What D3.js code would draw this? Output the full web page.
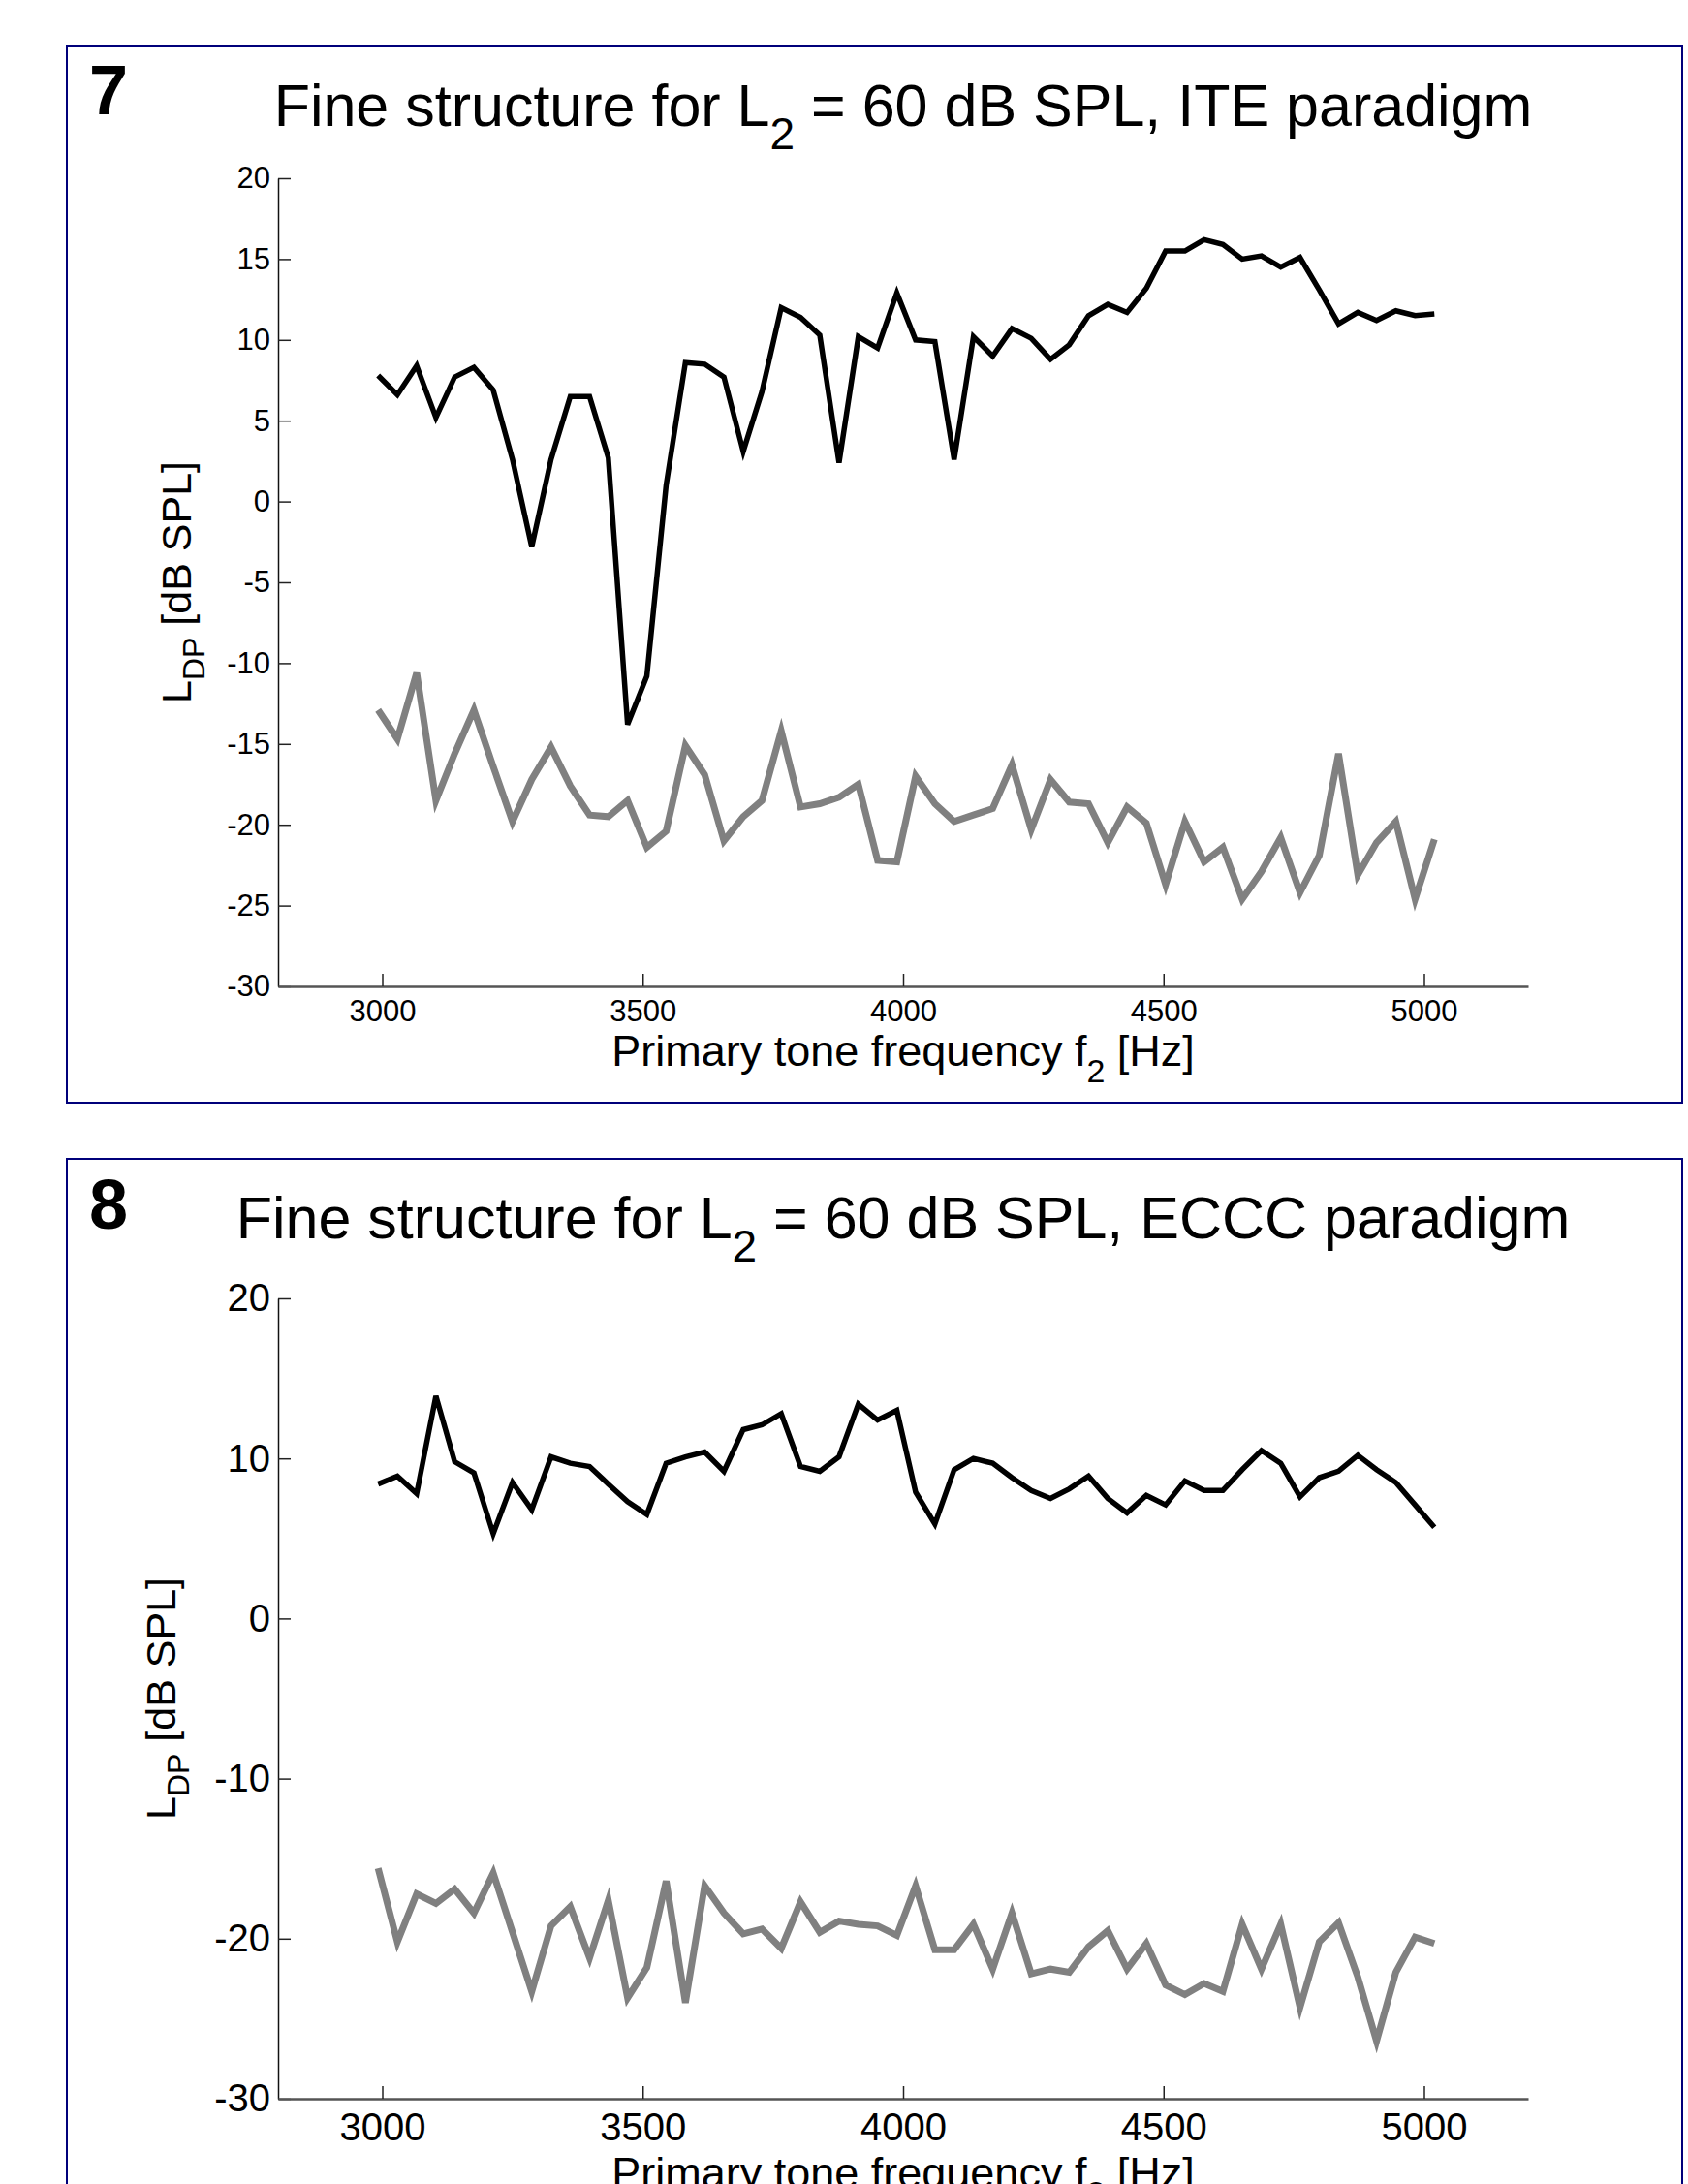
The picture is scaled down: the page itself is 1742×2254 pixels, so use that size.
<!DOCTYPE html>
<html>
<head>
<meta charset="utf-8">
<script src="https://cdn.jsdelivr.net/npm/d3@7/dist/d3.min.js"></script>
<style>
  html, body { margin: 0; padding: 0; background: #fff; }
  svg { display: block; font-family: 'Liberation Sans', Arial, sans-serif; }
</style>
</head>
<body>
<div id="chart"></div>
<script>
// f2 sampling grid (Hz), identical for both measurements
const FREQ = [2992, 3029, 3066, 3103, 3139, 3176, 3213, 3250, 3287, 3324,
  3361, 3398, 3434, 3471, 3508, 3545, 3582, 3619, 3656, 3693,
  3729, 3766, 3803, 3840, 3877, 3914, 3951, 3988, 4024, 4061,
  4098, 4135, 4172, 4209, 4246, 4283, 4319, 4356, 4393, 4430,
  4467, 4504, 4541, 4578, 4614, 4651, 4688, 4725, 4762, 4799,
  4836, 4873, 4909, 4946, 4983, 5020];

// Panel 7 — ITE paradigm
const ITE_DP = [7.8, 6.6, 8.4, 5.2, 7.7, 8.3, 6.9, 2.6, -2.8, 2.6,
  6.5, 6.5, 2.7, -13.8, -10.8, 1.0, 8.6, 8.5, 7.7, 3.1,
  6.8, 12.0, 11.4, 10.3, 2.4, 10.2, 9.5, 12.9, 10.0, 9.9,
  2.6, 10.2, 9.0, 10.7, 10.1, 8.8, 9.7, 11.5, 12.2, 11.7,
  13.2, 15.5, 15.5, 16.2, 15.9, 15.0, 15.2, 14.5, 15.1, 13.1,
  11.0, 11.7, 11.2, 11.8, 11.5, 11.6];
const ITE_NOISE = [-12.9, -14.7, -10.6, -18.5, -15.6, -12.9, -16.4, -19.8, -17.2, -15.2,
  -17.6, -19.4, -19.5, -18.5, -21.4, -20.4, -15.1, -16.9, -21.0, -19.5,
  -18.5, -14.2, -18.9, -18.7, -18.3, -17.5, -22.2, -22.3, -17.0, -18.7,
  -19.8, -19.4, -19.0, -16.3, -20.3, -17.2, -18.6, -18.7, -21.1, -18.9,
  -19.9, -23.7, -19.8, -22.3, -21.4, -24.6, -22.9, -20.8, -24.2, -21.9,
  -15.6, -23.1, -21.1, -19.8, -24.6, -20.9];

// Panel 8 — ECCC paradigm
const ECCC_DP = [8.4, 8.9, 7.8, 13.9, 9.8, 9.1, 5.3, 8.5, 6.8, 10.1,
  9.7, 9.5, 8.4, 7.3, 6.5, 9.7, 10.1, 10.4, 9.2, 11.8,
  12.1, 12.8, 9.5, 9.2, 10.1, 13.4, 12.4, 13.0, 7.9, 5.9,
  9.3, 10.0, 9.7, 8.8, 8.0, 7.5, 8.1, 8.9, 7.5, 6.6,
  7.7, 7.1, 8.6, 8.0, 8.0, 9.3, 10.5, 9.7, 7.6, 8.8,
  9.2, 10.2, 9.3, 8.5, 7.1, 5.7];
const ECCC_NOISE = [-15.6, -20.2, -17.2, -17.8, -16.9, -18.4, -15.9, -19.6, -23.3, -19.2,
  -18.0, -21.2, -17.6, -23.7, -21.8, -16.4, -24.0, -16.7, -18.4, -19.7,
  -19.4, -20.6, -17.7, -19.6, -18.9, -19.1, -19.2, -19.8, -16.7, -20.7,
  -20.7, -19.1, -21.9, -18.4, -22.2, -21.9, -22.1, -20.5, -19.5, -21.9,
  -20.3, -22.9, -23.5, -22.8, -23.3, -19.1, -21.9, -19.1, -24.3, -20.2,
  -19.0, -22.4, -26.4, -22.1, -19.9, -20.3];

const X_DOMAIN = [2800, 5200];
const Y_DOMAIN = [-30, 20];
const X_TICKS = [3000, 3500, 4000, 4500, 5000];
const Y_TICKS_ITE = [20, 15, 10, 5, 0, -5, -10, -15, -20, -25, -30];
const Y_TICKS_ECCC = [20, 10, 0, -10, -20, -30];

const W = 1742, H = 2254;
const svg = d3.select('#chart').append('svg').attr('width', W).attr('height', H);
svg.append('rect').attr('width', W).attr('height', H).attr('fill', '#fff');

const panels = [
  { num: '7', paradigm: 'ITE', dp: ITE_DP, noise: ITE_NOISE, yTicks: Y_TICKS_ITE,
    frameTop: 47, frameH: 1091, top: 184, bottom: 1018, tickFont: 31, xPad: 14,
    numBase: 118, titleBase: 130, xLabBase: 1100, yLabX: 197 },
  { num: '8', paradigm: 'ECCC', dp: ECCC_DP, noise: ECCC_NOISE, yTicks: Y_TICKS_ECCC,
    frameTop: 1196, frameH: 1200, top: 1340, bottom: 2166, tickFont: 40, xPad: 15,
    numBase: 1268, titleBase: 1278, xLabBase: 2258, yLabX: 181 },
];

const left = 287, right = 1577, cx = (left + right) / 2;
const plain = d => String(d);   // "3000", "-30" wie im Original (kein Tausenderkomma)

panels.forEach(p => {
  const g = svg.append('g');

  // blauer Rahmen
  g.append('rect').attr('x', 69).attr('y', p.frameTop).attr('width', 1667).attr('height', p.frameH)
    .attr('fill', '#fff').attr('stroke', '#00007a').attr('stroke-width', 2);

  const x = d3.scaleLinear().domain(X_DOMAIN).range([left, right]);
  const y = d3.scaleLinear().domain(Y_DOMAIN).range([p.bottom, p.top]);

  // y-Achse, Ticks nach innen
  const ya = g.append('g').attr('transform', `translate(${left},0)`)
    .call(d3.axisLeft(y).tickValues(p.yTicks).tickFormat(plain)
      .tickSizeInner(-13).tickSizeOuter(0).tickPadding(8));
  ya.select('.domain').attr('stroke', '#111').attr('stroke-width', 1.5);
  ya.selectAll('.tick line').attr('stroke', '#222').attr('stroke-width', 1.5);
  ya.selectAll('.tick text').attr('font-size', p.tickFont).attr('fill', '#000')
    .attr('font-family', "'Liberation Sans', Arial, sans-serif");

  // x-Achse
  const xa = g.append('g').attr('transform', `translate(0,${p.bottom})`)
    .call(d3.axisBottom(x).tickValues(X_TICKS).tickFormat(plain)
      .tickSizeInner(-13).tickSizeOuter(0).tickPadding(p.xPad));
  xa.select('.domain').attr('stroke', '#555').attr('stroke-width', 2.5);
  xa.selectAll('.tick line').attr('stroke', '#222').attr('stroke-width', 1.5);
  xa.selectAll('.tick text').attr('font-size', p.tickFont).attr('fill', '#000')
    .attr('font-family', "'Liberation Sans', Arial, sans-serif");

  const line = d3.line().x((d, i) => x(FREQ[i])).y(d => y(d));
  g.append('path').datum(p.noise).attr('d', line)
    .attr('fill', 'none').attr('stroke', '#808080').attr('stroke-width', 7);
  g.append('path').datum(p.dp).attr('d', line)
    .attr('fill', 'none').attr('stroke', '#000').attr('stroke-width', 5.5);

  // Panelnummer
  g.append('text').attr('x', 92).attr('y', p.numBase)
    .attr('font-size', 72).attr('font-weight', 'bold').text(p.num);

  // Titel
  const t = g.append('text').attr('x', cx).attr('y', p.titleBase)
    .attr('text-anchor', 'middle').attr('font-size', 61);
  t.append('tspan').text('Fine structure for L');
  t.append('tspan').attr('font-size', 46).attr('dy', 24).text('2');
  t.append('tspan').attr('dy', -24).text(` = 60 dB SPL, ${p.paradigm} paradigm`);

  // x-Beschriftung (im Panel 8 wie im Original am unteren Rand angeschnitten)
  const xl = g.append('text').attr('x', cx).attr('y', p.xLabBase)
    .attr('text-anchor', 'middle').attr('font-size', 45);
  xl.append('tspan').text('Primary tone frequency f');
  xl.append('tspan').attr('font-size', 34).attr('dy', 17).text('2');
  xl.append('tspan').attr('dy', -17).text(' [Hz]');

  // y-Beschriftung
  const yl = g.append('text')
    .attr('transform', `translate(${p.yLabX},${(p.top + p.bottom) / 2}) rotate(-90)`)
    .attr('text-anchor', 'middle').attr('font-size', 43);
  yl.append('tspan').text('L');
  yl.append('tspan').attr('font-size', 32).attr('dy', 14).text('DP');
  yl.append('tspan').attr('dy', -14).text(' [dB SPL]');
});
</script>
</body>
</html>
